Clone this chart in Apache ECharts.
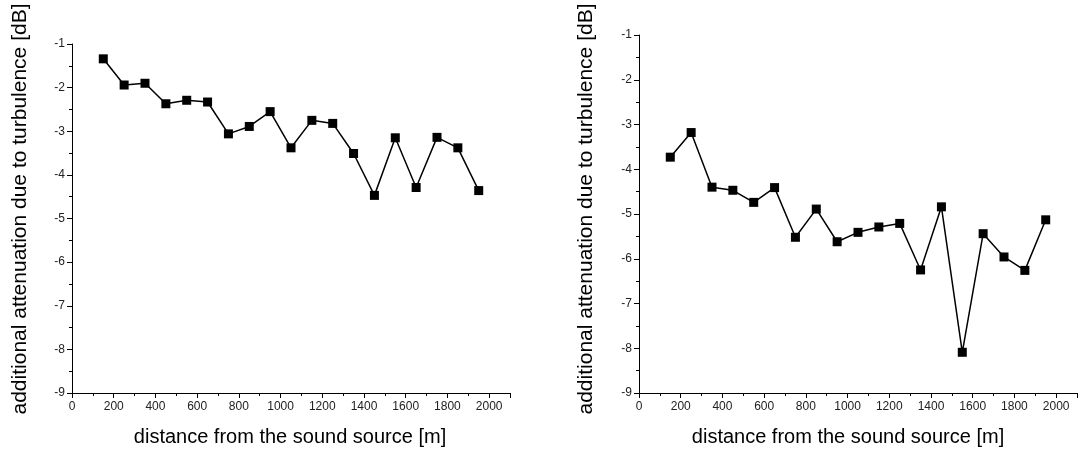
<!DOCTYPE html>
<html>
<head>
<meta charset="utf-8">
<script src="https://cdn.jsdelivr.net/npm/echarts@6/dist/echarts.min.js"></script>
<style>
html,body{margin:0;padding:0;background:#fff;}
#chart{width:1080px;height:450px;}
</style>
</head>
<body>
<div id="chart"></div>
<script>
// distances [m]
const distances = [150, 250, 350, 450, 550, 650, 750, 850, 950, 1050, 1150, 1250, 1350, 1450, 1550, 1650, 1750, 1850, 1950];
// additional attenuation due to turbulence [dB] - left panel
const attenuationLeft = [-1.34, -1.94, -1.90, -2.37, -2.29, -2.33, -3.06, -2.89, -2.55, -3.38, -2.75, -2.82, -3.51, -4.47, -3.15, -4.29, -3.14, -3.38, -4.36];
// additional attenuation due to turbulence [dB] - right panel
const attenuationRight = [-3.73, -3.18, -4.40, -4.47, -4.74, -4.41, -5.52, -4.89, -5.62, -5.41, -5.29, -5.21, -6.25, -4.84, -8.09, -5.44, -5.96, -6.26, -5.13];

const xTitle = 'distance from the sound source [m]';
const yTitle = 'additional attenuation due to turbulence [dB]';

const font = 'Liberation Sans, Arial, sans-serif';

function pairs(xs, ys) { return xs.map((x, i) => [x, ys[i]]); }

function xAxisCfg(gi) {
  return {
    type: 'value', gridIndex: gi, min: 0, max: 2100, interval: 200,
    axisLine: { show: true, lineStyle: { color: '#000', width: 1 } },
    axisTick: { show: true, inside: false, length: 5, lineStyle: { color: '#000' } },
    minorTick: { show: true, splitNumber: 2, length: 3, lineStyle: { color: '#000' } },
    splitLine: { show: false },
    axisLabel: {
      color: '#222', fontFamily: font, fontSize: 12, margin: 8,
      formatter: v => (v > 2000 ? '' : String(v))
    }
  };
}
function yAxisCfg(gi) {
  return {
    type: 'value', gridIndex: gi, min: -9, max: -1, interval: 1,
    axisLine: { show: true, lineStyle: { color: '#000', width: 1 } },
    axisTick: { show: true, inside: false, length: 5, lineStyle: { color: '#000' } },
    minorTick: { show: true, splitNumber: 2, length: 3, lineStyle: { color: '#000' } },
    splitLine: { show: false },
    axisLabel: { color: '#222', fontFamily: font, fontSize: 12, margin: 7 }
  };
}
function seriesCfg(gi, data) {
  return {
    type: 'line', xAxisIndex: gi, yAxisIndex: gi, data: data,
    symbol: 'rect', symbolSize: 9,
    itemStyle: { color: '#000' },
    lineStyle: { color: '#000', width: 1.5 },
    animation: false
  };
}

const chart = echarts.init(document.getElementById('chart'), null, { renderer: 'canvas' });
chart.setOption({
  backgroundColor: '#fff',
  animation: false,
  grid: [
    { left: 72, top: 44, width: 438, height: 349 },
    { left: 639, top: 35, width: 438, height: 358 }
  ],
  xAxis: [xAxisCfg(0), xAxisCfg(1)],
  yAxis: [yAxisCfg(0), yAxisCfg(1)],
  series: [
    seriesCfg(0, pairs(distances, attenuationLeft)),
    seriesCfg(1, pairs(distances, attenuationRight))
  ],
  graphic: [
    { type: 'text', x: 290, y: 437, style: { text: xTitle, font: '20px ' + font, fill: '#000', textAlign: 'center', textVerticalAlign: 'middle' } },
    { type: 'text', x: 848, y: 437, style: { text: xTitle, font: '20px ' + font, fill: '#000', textAlign: 'center', textVerticalAlign: 'middle' } },
    { type: 'text', x: 20, y: 209, rotation: Math.PI / 2, style: { text: yTitle, font: '21px ' + font, fill: '#000', textAlign: 'center', textVerticalAlign: 'middle' } },
    { type: 'text', x: 586, y: 209, rotation: Math.PI / 2, style: { text: yTitle, font: '21px ' + font, fill: '#000', textAlign: 'center', textVerticalAlign: 'middle' } }
  ]
});
</script>
</body>
</html>
